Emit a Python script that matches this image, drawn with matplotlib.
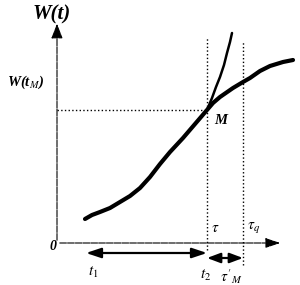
import numpy as np
import matplotlib
matplotlib.use("Agg")
import matplotlib.pyplot as plt

plt.rcParams["mathtext.fontset"] = "stix"

# main curve W(t) (t, W)
main_t = [28, 35, 43, 53, 63, 73, 83, 93, 103, 113, 126, 138, 150,
          156, 163, 176, 186, 193, 203, 213, 226, 236]
main_w = [24, 28, 31, 35, 41, 47, 55, 66, 79, 91, 105, 119, 133,
          140, 146, 155, 161, 165, 172, 177, 181, 183]
# steep branch going up from M
branch_t = [150, 155, 159, 163, 167, 170, 173, 175]
branch_w = [133, 145, 156, 166, 178, 190, 201, 210]

t_M, w_M = 150, 133
tau, tau_q = 150, 186
t1, t2 = 29, 150

serif = {"family": "Liberation Serif", "style": "italic", "weight": "bold"}

fig = plt.figure(figsize=(3.0, 2.85), dpi=100)
ax = fig.add_axes([0, 0, 1, 1])
ax.set_xlim(-57, 243)
ax.set_ylim(-42, 243)
ax.axis("off")

# axes with arrow heads
ax.annotate("", xy=(0, 222), xytext=(0, 0),
            arrowprops=dict(arrowstyle="-|>,head_length=0.9,head_width=0.35", color="black", lw=0.8, ls=(0, (6, 1))))
ax.annotate("", xy=(226, 0), xytext=(0, 0),
            arrowprops=dict(arrowstyle="-|>,head_length=0.9,head_width=0.3", color="black", lw=0.8, ls=(0, (6, 1))))

# dotted guide lines
ax.plot([0, t_M], [w_M, w_M], color="black", lw=1.0, ls=":")
ax.plot([tau, tau], [-7, 205], color="black", lw=1.0, ls=":")
ax.plot([tau_q, tau_q], [-22, 201], color="black", lw=1.0, ls=":")

# curves
ax.plot(main_t, main_w, color="black", lw=3.0, solid_capstyle="round", solid_joinstyle="round")
ax.plot(branch_t, branch_w, color="black", lw=1.8, solid_capstyle="round", solid_joinstyle="round")

# interval arrows
ax.annotate("", xy=(t1, -10), xytext=(t2, -10),
            arrowprops=dict(arrowstyle="<|-|>,head_length=0.9,head_width=0.3", color="black", lw=1.6, shrinkA=0, shrinkB=0))
ax.annotate("", xy=(tau, -15), xytext=(tau_q, -15),
            arrowprops=dict(arrowstyle="<|-|>,head_length=0.8,head_width=0.3", color="black", lw=1.6, shrinkA=0, shrinkB=0))

# labels
ax.text(-24, 229, "W(t)", fontsize=15, ha="left", va="center", fontdict=serif)
ax.text(-50, 161, r"W(t$_M$)", fontsize=10.5, ha="left", va="center", fontdict=serif)
ax.text(-7, -4, "0", fontsize=10, ha="left", va="center", fontdict=serif)
ax.text(157, 122, "M", fontsize=10.5, ha="left", va="center", fontdict=serif)
ax.text(154, 16, r"$\tau$", fontsize=11, ha="left", va="center")
ax.text(190, 15, r"$\tau_q$", fontsize=11, ha="left", va="center")
ax.text(31, -29, r"$t_1$", fontsize=11, ha="left", va="center")
ax.text(143, -32, r"$t_2$", fontsize=11, ha="left", va="center")
ax.text(163, -34, r"$\tau'_M$", fontsize=11, ha="left", va="center")

fig.savefig("out.png", dpi=100)
